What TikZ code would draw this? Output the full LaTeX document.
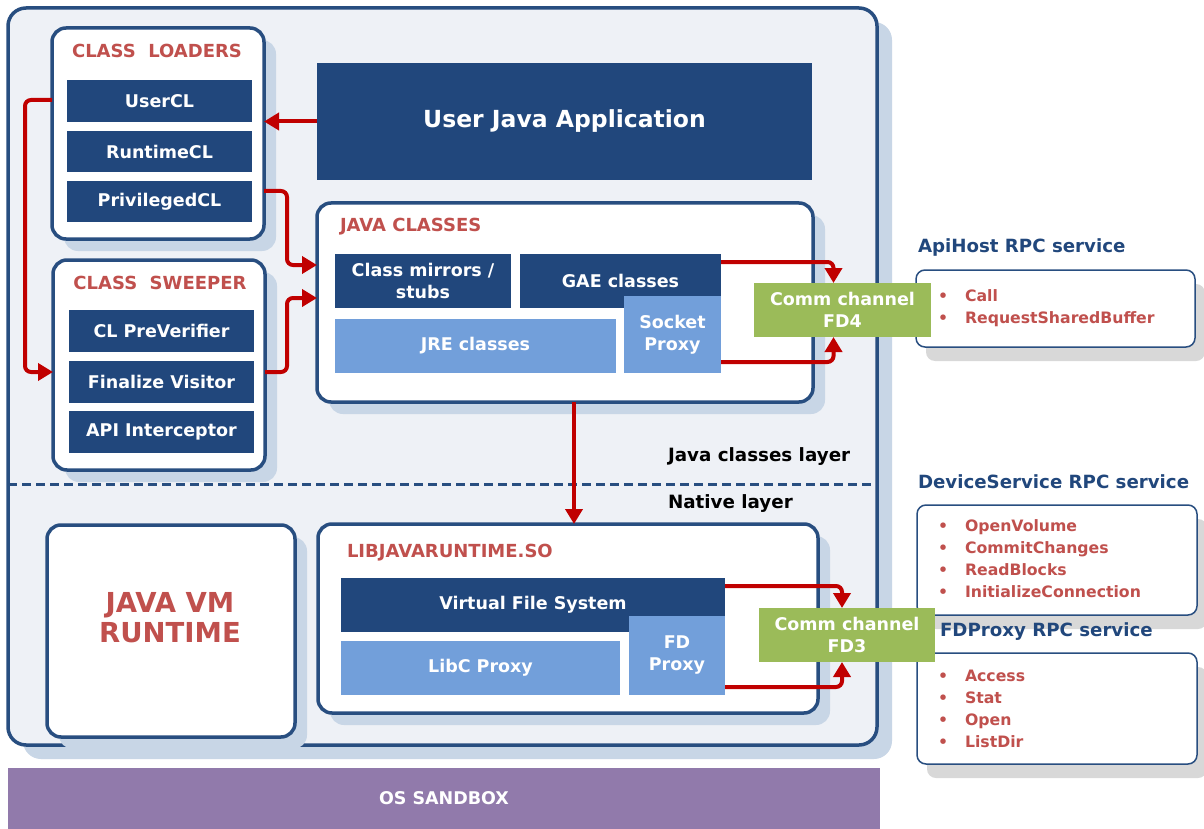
\documentclass[tikz,border=0pt]{standalone}
\usepackage{fontspec}
\setmainfont{DejaVu Sans}
\usetikzlibrary{arrows.meta,shadows,calc}
\definecolor{dblue}{HTML}{21477C}
\definecolor{bord}{HTML}{284E80}
\definecolor{lblue}{HTML}{729FDA}
\definecolor{cgreen}{HTML}{9BBB59}
\definecolor{tred}{HTML}{C0504D}
\definecolor{ared}{HTML}{C00000}
\definecolor{shad}{HTML}{C8D6E6}
\definecolor{bgfill}{HTML}{EEF1F6}
\definecolor{purp}{HTML}{917AAB}
\definecolor{gshad}{HTML}{D8D8D8}
\newcommand{\fs}[2]{\fontsize{#1}{#2}\selectfont}
\newcommand{\bx}[7]{\node[#2, anchor=north west, minimum width={#5pt-#3pt}, minimum height={#6pt-#4pt}] (#1) at (#3,#4) {#7};}
\begin{document}
\begin{tikzpicture}[x=1pt,y=-1pt,
  every node/.style={outer sep=0pt, inner sep=0pt, font=\bfseries\fs{17.5}{22}},
  outerbox/.style={draw=bord, line width=3.5pt, fill=bgfill, rounded corners=18pt,
     drop shadow={shadow xshift=15pt, shadow yshift=-14pt, fill=shad, opacity=1}},
  container/.style={draw=bord, line width=3.5pt, fill=white, rounded corners=14pt,
     drop shadow={shadow xshift=12pt, shadow yshift=-12pt, fill=shad, opacity=1}},
  dbox/.style={fill=dblue, text=white, align=center},
  lbox/.style={fill=lblue, text=white, align=center},
  gbox/.style={fill=cgreen, text=white, align=center},
  rpc/.style={draw=bord, line width=1.5pt, fill=white, rounded corners=9pt,
     drop shadow={shadow xshift=10pt, shadow yshift=-14pt, fill=gshad, opacity=1}},
  title/.style={text=tred, font=\bfseries\fs{18}{22}},
  rpctitle/.style={text=dblue, font=\bfseries\fs{18.2}{22}, anchor=west},
  items/.style={text=tred, font=\bfseries\fs{15.7}{22}, anchor=base west},
  layer/.style={text=black, font=\bfseries\fs{18.3}{22}, anchor=west},
  conn/.style={draw=ared, line width=4pt, rounded corners=6pt, -{Triangle[length=15pt,width=17pt]}},
  divider/.style={draw=bord, line width=3pt, dash pattern=on 9pt off 5pt}
]
\useasboundingbox[fill=white] (0,0) rectangle (1204,829);

% main frames
\bx{outer}{outerbox}{8}{8}{877}{745}{}
\bx{os}{fill=purp, text=white}{8}{768}{880}{829}{OS SANDBOX}

% class loaders
\bx{cl}{container}{52}{28}{264}{239}{}
\node[title] (cltitle) at (157,51) {CLASS~~LOADERS};
\bx{usercl}{dbox}{67}{80}{252}{122}{UserCL}
\bx{runtimecl}{dbox}{67}{131}{252}{172}{RuntimeCL}
\bx{privcl}{dbox}{67}{181}{252}{222}{PrivilegedCL}

% class sweeper
\bx{sw}{container}{53}{260}{265}{470}{}
\node[title] (swtitle) at (160,283) {CLASS~~SWEEPER};
\bx{clpv}{dbox}{69}{310}{254}{352}{CL PreVerifier}
\bx{fv}{dbox}{69}{361}{254}{403}{Finalize Visitor}
\bx{apii}{dbox}{69}{411}{254}{453}{API Interceptor}

% user java application
\bx{uja}{dbox, font=\bfseries\fs{23.5}{28}}{317}{63}{812}{180}{User Java Application}

% java classes
\bx{jc}{container}{317}{203}{813}{402}{}
\node[title, anchor=west] (jctitle) at (340,227) {JAVA CLASSES};
\bx{cms}{dbox}{335}{254}{511}{308}{Class mirrors /\\stubs}
\bx{gae}{dbox}{520}{254}{721}{308}{GAE classes}
\bx{jre}{lbox}{335}{319}{616}{373}{JRE classes}
\bx{sp}{lbox}{624}{296}{721}{373}{Socket\\Proxy}

% layers
\draw[divider] (outer.west |- 0,484) -- (outer.east |- 0,484);
\node[layer] (jcl) at (668,457) {Java classes layer};
\node[layer] (nl) at (668,504) {Native layer};

% native layer
\bx{jvm}{container}{47}{525}{295}{737}{}
\node[text=tred, font=\bfseries\fs{27.5}{30}, align=center] (jvmtext) at (170,618) {JAVA VM\\RUNTIME};
\bx{libj}{container}{318}{524}{818}{713}{}
\node[title, anchor=west] (libjtitle) at (347,553) {LIBJAVARUNTIME.SO};
\bx{vfs}{dbox}{341}{578}{725}{632}{Virtual File System}
\bx{libc}{lbox}{341}{641}{620}{695}{LibC Proxy}
\bx{fdp}{lbox}{629}{616}{725}{695}{FD\\Proxy}

% RPC services
\node[rpctitle] (apit) at (918,247) {ApiHost RPC service};
\bx{api}{rpc}{916}{270}{1195}{347}{}
\node[items] (apil) at (938,301) {\begin{tabular}[t]{@{}l@{\hspace{17pt}}l@{}}•&Call\\•&RequestSharedBuffer\end{tabular}};

\node[rpctitle] (devt) at (918,482) {DeviceService RPC service};
\bx{dev}{rpc}{917}{505}{1197}{615}{}
\node[items] (devl) at (938,531) {\begin{tabular}[t]{@{}l@{\hspace{17pt}}l@{}}•&OpenVolume\\•&CommitChanges\\•&ReadBlocks\\•&InitializeConnection\end{tabular}};

\node[rpctitle] (fdt) at (940,632) {FDProxy RPC service};
\bx{fdr}{rpc}{917}{653}{1197}{764}{}
\node[items] (fdl) at (938,681) {\begin{tabular}[t]{@{}l@{\hspace{17pt}}l@{}}•&Access\\•&Stat\\•&Open\\•&ListDir\end{tabular}};

% comm channels
\bx{fd4}{gbox}{754}{283}{931}{337}{Comm channel\\FD4}
\bx{fd3}{gbox}{759}{608}{935}{662}{Comm channel\\FD3}

% connectors
\draw[conn] (uja.west) -- (uja.west -| cl.east);
\draw[conn] (cl.west |- 0,100) -- (25,100) |- (sw.west |- 0,372);
\draw[conn] (cl.east |- 0,191) -| (287,265) -- (jc.west |- 0,265);
\draw[conn] (sw.east |- 0,372) -| (287,298) -- (jc.west |- 0,298);
\draw[conn] (gae.east |- 0,262) -| ($(fd4.north)+(-9,0)$);
\draw[conn] (sp.east |- 0,362) -| ($(fd4.south)+(-9,0)$);
\draw[conn] (jc.south -| 574,0) -- (libj.north -| 574,0);
\draw[conn] (vfs.east |- 0,586) -| ($(fd3.north)+(-5,0)$);
\draw[conn] (fdp.east |- 0,687) -| ($(fd3.south)+(-5,0)$);
\end{tikzpicture}
\end{document}
